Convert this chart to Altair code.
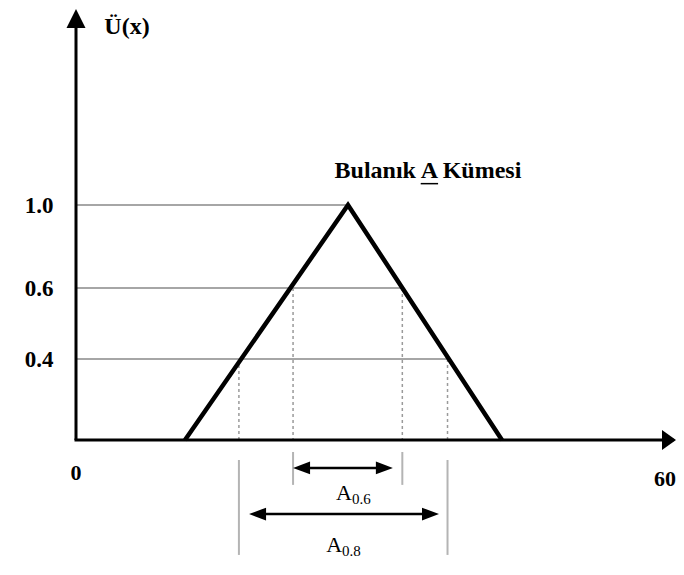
import altair as alt
import pandas as pd

# ---- data ----
tri_x = [10.97, 27.38, 42.88]          # triangle vertices (x)
tri_mu = [0.0, 1.0, 0.0]               # membership at vertices
level_mu = [1.0, 0.6, 0.4]             # horizontal guide levels
level_x_end = [27.38, 32.85, 37.4]     # where each guide meets the triangle
cut06_x = [21.85, 32.85]               # alpha-cut at 0.6
cut04_x = [16.4, 37.4]                 # alpha-cut at 0.4
x_tick_values = [0, 60.4]
x_tick_labels = ["0", "60"]
y_tick_values = [0.4, 0.6, 1.0]
y_title = "Ü(x)"
set_label = "Bulanık A Kümesi"
cut_names = ["0.6", "0.8"]

SERIF = "Liberation Serif"

xs = alt.Scale(domain=[0, 60.4], range=[0, 600])
ys = alt.Scale(domain=[-0.5106, 0, 0.4, 0.6, 1.0, 1.9],
               range=[552, 432, 351, 280, 197, 1])

yaxis = alt.Axis(values=y_tick_values, format=".1f", labelFont=SERIF,
                 labelFontSize=23, labelFontWeight="bold", labelColor="black",
                 ticks=False, domain=False, grid=False, labelPadding=23,
                 title=None)


def X(f):
    return alt.X(f, type="quantitative", scale=xs, axis=None)


def Y(f):
    return alt.Y(f, type="quantitative", scale=ys, axis=yaxis)


# horizontal guides
lv = pd.DataFrame({"mu": level_mu, "x0": [0] * 3, "x1": level_x_end})
guides = alt.Chart(lv).mark_rule(color="#888888", strokeWidth=1.6).encode(
    x=X("x0"), x2="x1", y=Y("mu"))

# dashed verticals from cut points down to the axis
dv = pd.DataFrame({"x": cut06_x + cut04_x, "top": [0.6, 0.6, 0.4, 0.4],
                   "bot": [0.0] * 4})
dashed = alt.Chart(dv).mark_rule(color="#9a9a9a", strokeWidth=1.5,
                                 strokeDash=[3, 3]).encode(
    x=X("x"), y=Y("top"), y2="bot")

# solid grey verticals below the axis
bv = pd.DataFrame({"x": cut06_x + cut04_x,
                   "top": [-0.051, -0.051, -0.085, -0.085],
                   "bot": [-0.191, -0.191, -0.489, -0.489]})
below = alt.Chart(bv).mark_rule(color="#b4b4b4", strokeWidth=2).encode(
    x=X("x"), y=Y("top"), y2="bot")

# triangle
tr = pd.DataFrame({"x": tri_x, "mu": tri_mu, "o": [0, 1, 2]})
tri = alt.Chart(tr).mark_line(color="black", strokeWidth=4.5,
                              strokeJoin="miter").encode(
    x=X("x"), y=Y("mu"), order="o:Q")

# axis lines
ax_y = alt.Chart(pd.DataFrame({"x": [0], "a": [0.0], "b": [1.85]})).mark_rule(
    color="black", strokeWidth=3).encode(x=X("x"), y=Y("a"), y2="b")
ax_x = alt.Chart(pd.DataFrame({"a": [-0.0], "b": [60.0], "y": [0.0]})).mark_rule(
    color="black", strokeWidth=3, strokeCap="square").encode(
    x=X("a"), x2="b", y=Y("y"))

head_y = alt.Chart(pd.DataFrame({"x": [0], "y": [1.9]})).mark_point(
    shape="M0,0L1,2L-1,2Z", filled=True, color="black", opacity=1,
    size=361, strokeWidth=0).encode(x=X("x"), y=Y("y"))
head_x = alt.Chart(pd.DataFrame({"x": [60.4], "y": [0.0]})).mark_point(
    shape="M0,0L-1.4,-1L-1.4,1Z", filled=True, color="black", opacity=1,
    size=400, strokeWidth=0).encode(x=X("x"), y=Y("y"))

# double arrows for the cuts
arr = pd.DataFrame({"l": [21.85, 17.42], "r": [31.9, 36.54],
                    "y": [-0.119, -0.315]})
arr["l2"] = arr["l"] + 1.0
arr["r2"] = arr["r"] - 1.0
shaft = alt.Chart(arr).mark_rule(color="black", strokeWidth=2.5).encode(
    x=X("l2"), x2="r2", y=Y("y"))
lhead = alt.Chart(arr).mark_point(
    shape="M0,0L2,-0.75L2,0.75Z", filled=True, color="black", opacity=1,
    size=289, strokeWidth=0).encode(x=X("l"), y=Y("y"))
rhead = alt.Chart(arr).mark_point(
    shape="M0,0L-2,-0.75L-2,0.75Z", filled=True, color="black", opacity=1,
    size=289, strokeWidth=0).encode(x=X("r"), y=Y("y"))

# A labels with subscripts
al = pd.DataFrame({"x": [27.78, 26.78], "y": [-0.2255, -0.445],
                   "A": ["A", "A"], "sub": cut_names})
a_txt = alt.Chart(al).mark_text(font=SERIF, fontSize=22, align="right",
                                baseline="middle", color="black").encode(
    x=X("x"), y=Y("y"), text="A:N")
sub_txt = alt.Chart(al).mark_text(font=SERIF, fontSize=15, align="left",
                                  baseline="middle", dy=6, dx=0,
                                  color="black").encode(
    x=X("x"), y=Y("y"), text="sub:N")

# x tick labels (0 centred on the origin, 60 flush with the arrow tip)
xt = pd.DataFrame({"x": x_tick_values, "t": x_tick_labels,
                   "y": [-0.14, -0.165], "al": ["center", "right"]})
x_txt0 = alt.Chart(xt.iloc[:1]).mark_text(
    font=SERIF, fontSize=22, fontWeight="bold", align="center",
    baseline="middle", color="black").encode(x=X("x"), y=Y("y"), text="t:N")
x_txt1 = alt.Chart(xt.iloc[1:]).mark_text(
    font=SERIF, fontSize=22, fontWeight="bold", align="right",
    baseline="middle", color="black").encode(x=X("x"), y=Y("y"), text="t:N")

# titles
tt = pd.DataFrame({"x": [5.13, 35.43], "y": [1.817, 1.156],
                   "t": [y_title, set_label]})
t_txt = alt.Chart(tt).mark_text(font=SERIF, fontSize=24, fontWeight="bold",
                                align="center", baseline="middle",
                                color="black").encode(
    x=X("x"), y=Y("y"), text="t:N")

ul = alt.Chart(pd.DataFrame({"a": [34.7], "b": [36.45], "y": [1.098]})).mark_rule(
    color="black", strokeWidth=1.5).encode(x=X("a"), x2="b", y=Y("y"))

chart = alt.layer(guides, dashed, below, tri, ax_y, ax_x, head_y, head_x,
                  shaft, lhead, rhead, a_txt, sub_txt, x_txt0, x_txt1,
                  t_txt, ul
                  ).properties(
    width=600, height=552,
    autosize=alt.AutoSizeParams(type="none"),
    padding={"left": 68, "top": 0, "right": 0, "bottom": 0},
    background="white",
).configure_view(stroke=None)

chart.save("out.html", embed_options={"renderer": "svg", "actions": False})
